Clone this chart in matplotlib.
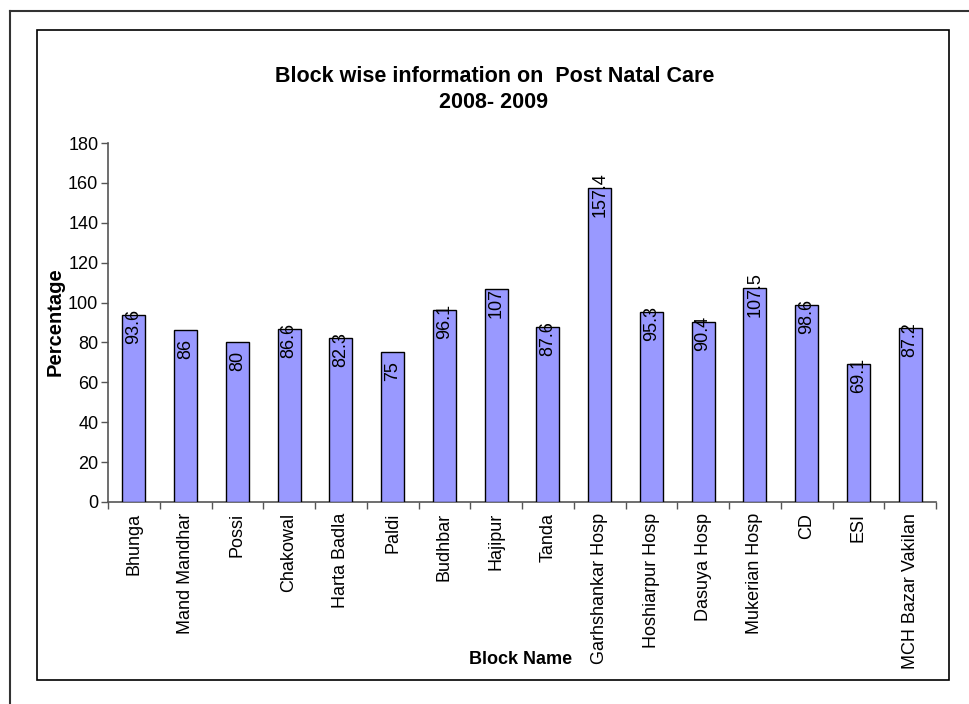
import matplotlib
matplotlib.use("Agg")
import matplotlib.pyplot as plt
from matplotlib.lines import Line2D
from matplotlib.patches import Rectangle

categories = ["Bhunga", "Mand Mandhar", "Possi", "Chakowal", "Harta Badla", "Paldi",
              "Budhbar", "Hajipur", "Tanda", "Garhshankar Hosp", "Hoshiarpur Hosp",
              "Dasuya Hosp", "Mukerian Hosp", "CD", "ESI", "MCH Bazar Vakilan"]
values = [93.6, 86, 80, 86.6, 82.3, 75, 96.1, 107, 87.6, 157.4, 95.3, 90.4, 107.5, 98.6, 69.1, 87.2]
value_labels = ["93.6", "86", "80", "86.6", "82.3", "75", "96.1", "107", "87.6", "157.4",
                "95.3", "90.4", "107.5", "98.6", "69.1", "87.2"]
yticks = [0, 20, 40, 60, 80, 100, 120, 140, 160, 180]

plt.rcParams['font.family'] = ['Liberation Sans', 'DejaVu Sans']

W, H = 969, 704
fig = plt.figure(figsize=(W / 100, H / 100), dpi=100)

def fx(px):
    return px / W

def fy(py):
    return 1 - py / H

# outer frame (only left and top visible)
fig.add_artist(Line2D([fx(10), fx(10)], [fy(11), fy(704)], color='#333333', lw=1.5, transform=fig.transFigure))
fig.add_artist(Line2D([fx(10), fx(969)], [fy(11), fy(11)], color='#333333', lw=1.5, transform=fig.transFigure))
# inner chart area frame
fig.add_artist(Rectangle((fx(37), fy(680)), fx(949) - fx(37), fy(30) - fy(680),
                         fill=False, edgecolor='black', lw=1.2, transform=fig.transFigure))

ax = fig.add_axes([fx(108), fy(502), fx(936) - fx(108), fy(143) - fy(502)])
x = list(range(len(categories)))
ax.bar(x, values, width=0.44, color='#9999FF', edgecolor='black', linewidth=1.0, zorder=3)

ax.set_xlim(-0.5, len(categories) - 0.5)
ax.set_ylim(0, 180)
ax.set_yticks(yticks)
ax.set_yticklabels([str(v) for v in yticks], fontsize=13)
ax.set_xticks(x)
ax.set_xticklabels(categories, rotation=90, fontsize=13, va='top', ha='center')
ax.set_xticks([i - 0.5 for i in range(len(categories) + 1)], minor=True)
ax.tick_params(axis='x', which='major', length=0, pad=8)
ax.tick_params(axis='x', which='minor', length=5, width=1, color='#555555', direction='out')
ax.tick_params(axis='y', length=5, width=1, color='#555555', pad=2, direction='out')

for s in ['top', 'right']:
    ax.spines[s].set_visible(False)
for s in ['left', 'bottom']:
    ax.spines[s].set_color('#555555')
    ax.spines[s].set_linewidth(1.2)

for xi, v, lab in zip(x, values, value_labels):
    ax.annotate(lab, (xi, v), xytext=(0, -29), textcoords='offset pixels',
                rotation=90, ha='center', va='bottom', fontsize=13, zorder=4)

fig.text(fx(495), fy(77), "Block wise information on  Post Natal Care", ha='center', va='center',
         fontsize=15.5, fontweight='bold')
fig.text(fx(494), fy(103), "2008- 2009", ha='center', va='center', fontsize=15.5, fontweight='bold')
fig.text(fx(55), fy(322), "Percentage", ha='center', va='center', rotation=90,
         fontsize=14.5, fontweight='bold')
fig.text(fx(521), fy(660), "Block Name", ha='center', va='center', fontsize=13, fontweight='bold')

fig.savefig("out.png", dpi=100)
